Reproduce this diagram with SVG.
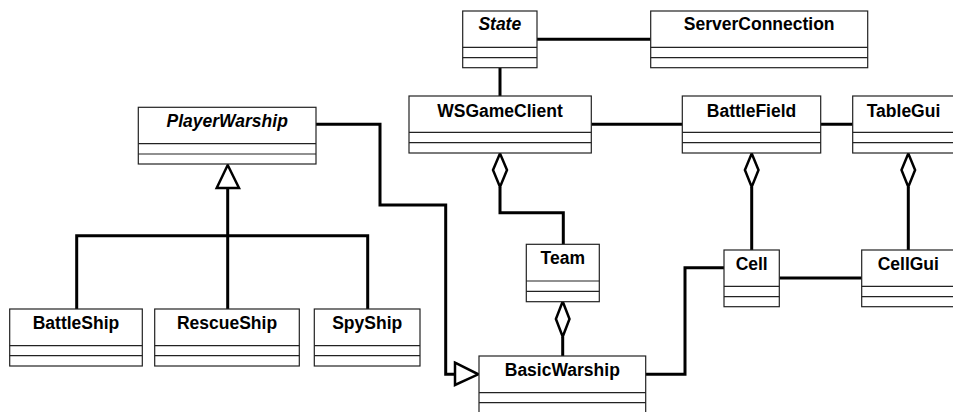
<svg xmlns="http://www.w3.org/2000/svg" width="953" height="412" viewBox="0 0 953 412">
<style>
.box{fill:#fff;stroke:#222;stroke-width:1.2}
.div{stroke:#222;stroke-width:1.2}
.t{font-family:"Liberation Sans",Arial,sans-serif;font-weight:bold;font-size:17.5px;text-anchor:middle;fill:#000}
.i{font-style:italic}
.c{fill:none;stroke:#000;stroke-width:3;stroke-linejoin:miter}
.h{fill:#fff;stroke:#000;stroke-width:2.5}
</style>
<rect width="953" height="412" fill="#fff"/>
<g id="connectors">
<polyline class="c" points="316,124.3 380,124.3 380,205 445.7,205 445.7,374.3 455,374.3"/>
<line class="c" x1="227.7" y1="188" x2="227.7" y2="309"/>
<polyline class="c" points="76.7,309 76.7,235.7 367.7,235.7 367.7,309"/>
<line class="c" x1="500" y1="67.7" x2="500" y2="96"/>
<line class="c" x1="537" y1="39.3" x2="650.7" y2="39.3"/>
<line class="c" x1="591.3" y1="124.3" x2="682.3" y2="124.3"/>
<line class="c" x1="820.7" y1="124.3" x2="852.7" y2="124.3"/>
<polyline class="c" points="500,187 500,212.7 563.3,212.7 563.3,244.3"/>
<line class="c" x1="562.7" y1="336.7" x2="562.7" y2="356"/>
<line class="c" x1="751.7" y1="187" x2="751.7" y2="250"/>
<line class="c" x1="908.3" y1="187" x2="908.3" y2="250"/>
<polyline class="c" points="645.7,374.3 685,374.3 685,267.7 724,267.7"/>
<line class="c" x1="779.3" y1="278" x2="861.7" y2="278"/>
<polygon class="h" points="216.7,188 227.7,165 239,188"/>
<polygon class="h" points="455,362.7 478.3,374.3 455,385"/>
<polygon class="h" points="500,153.5 507,170 500,187 493,170"/>
<polygon class="h" points="562.7,301.5 569.5,319 562.7,336.7 555.9,319"/>
<polygon class="h" points="751.7,153.5 758.5,170 751.7,187 744.9,170"/>
<polygon class="h" points="908.3,153.5 915.1,170 908.3,187 901.5,170"/>
</g>
<g id="PlayerWarship">
<rect class="box" x="138.3" y="107.3" width="177.7" height="56.7"/>
<line class="div" x1="138.3" y1="143.7" x2="316" y2="143.7"/>
<line class="div" x1="138.3" y1="154" x2="316" y2="154"/>
<text class="t i" x="227.2" y="127">PlayerWarship</text>
</g>
<g id="BattleShip">
<rect class="box" x="9.7" y="309" width="132.6" height="57"/>
<line class="div" x1="9.7" y1="345.7" x2="142.3" y2="345.7"/>
<line class="div" x1="9.7" y1="355.7" x2="142.3" y2="355.7"/>
<text class="t" x="76" y="329">BattleShip</text>
</g>
<g id="RescueShip">
<rect class="box" x="154.7" y="309" width="144.6" height="57"/>
<line class="div" x1="154.7" y1="345.7" x2="299.3" y2="345.7"/>
<line class="div" x1="154.7" y1="355.7" x2="299.3" y2="355.7"/>
<text class="t" x="227" y="329">RescueShip</text>
</g>
<g id="SpyShip">
<rect class="box" x="314.3" y="309" width="105.7" height="57"/>
<line class="div" x1="314.3" y1="345.7" x2="420" y2="345.7"/>
<line class="div" x1="314.3" y1="355.7" x2="420" y2="355.7"/>
<text class="t" x="367.2" y="329">SpyShip</text>
</g>
<g id="State">
<rect class="box" x="462.7" y="11" width="74.3" height="56.7"/>
<line class="div" x1="462.7" y1="47.3" x2="537" y2="47.3"/>
<line class="div" x1="462.7" y1="57.7" x2="537" y2="57.7"/>
<text class="t i" x="499.8" y="30">State</text>
</g>
<g id="ServerConnection">
<rect class="box" x="650.7" y="11" width="217" height="56.7"/>
<line class="div" x1="650.7" y1="47.3" x2="867.7" y2="47.3"/>
<line class="div" x1="650.7" y1="57.7" x2="867.7" y2="57.7"/>
<text class="t" x="759.2" y="30">ServerConnection</text>
</g>
<g id="WSGameClient">
<rect class="box" x="409" y="96" width="182.3" height="57"/>
<line class="div" x1="409" y1="132.3" x2="591.3" y2="132.3"/>
<line class="div" x1="409" y1="142.7" x2="591.3" y2="142.7"/>
<text class="t" x="500" y="116.5">WSGameClient</text>
</g>
<g id="BattleField">
<rect class="box" x="682.3" y="96" width="138.4" height="57"/>
<line class="div" x1="682.3" y1="132.3" x2="820.7" y2="132.3"/>
<line class="div" x1="682.3" y1="142.7" x2="820.7" y2="142.7"/>
<text class="t" x="751.5" y="116.5">BattleField</text>
</g>
<g id="TableGui">
<rect class="box" x="852.7" y="96" width="102" height="57"/>
<line class="div" x1="852.7" y1="132.3" x2="954.7" y2="132.3"/>
<line class="div" x1="852.7" y1="142.7" x2="954.7" y2="142.7"/>
<text class="t" x="903.5" y="116.5">TableGui</text>
</g>
<g id="Team">
<rect class="box" x="526.3" y="244.3" width="73" height="57.4"/>
<line class="div" x1="526.3" y1="281" x2="599.3" y2="281"/>
<line class="div" x1="526.3" y1="291.3" x2="599.3" y2="291.3"/>
<text class="t" x="562.8" y="264">Team</text>
</g>
<g id="Cell">
<rect class="box" x="724" y="250" width="55.3" height="56.7"/>
<line class="div" x1="724" y1="286.3" x2="779.3" y2="286.3"/>
<line class="div" x1="724" y1="296.7" x2="779.3" y2="296.7"/>
<text class="t" x="751.7" y="270">Cell</text>
</g>
<g id="CellGui">
<rect class="box" x="861.7" y="250" width="93" height="56.7"/>
<line class="div" x1="861.7" y1="286.3" x2="954.7" y2="286.3"/>
<line class="div" x1="861.7" y1="296.7" x2="954.7" y2="296.7"/>
<text class="t" x="908.3" y="270">CellGui</text>
</g>
<g id="BasicWarship">
<rect class="box" x="479" y="356" width="166.7" height="58"/>
<line class="div" x1="479" y1="392.7" x2="645.7" y2="392.7"/>
<line class="div" x1="479" y1="402.7" x2="645.7" y2="402.7"/>
<text class="t" x="562.3" y="376">BasicWarship</text>
</g>
</svg>
